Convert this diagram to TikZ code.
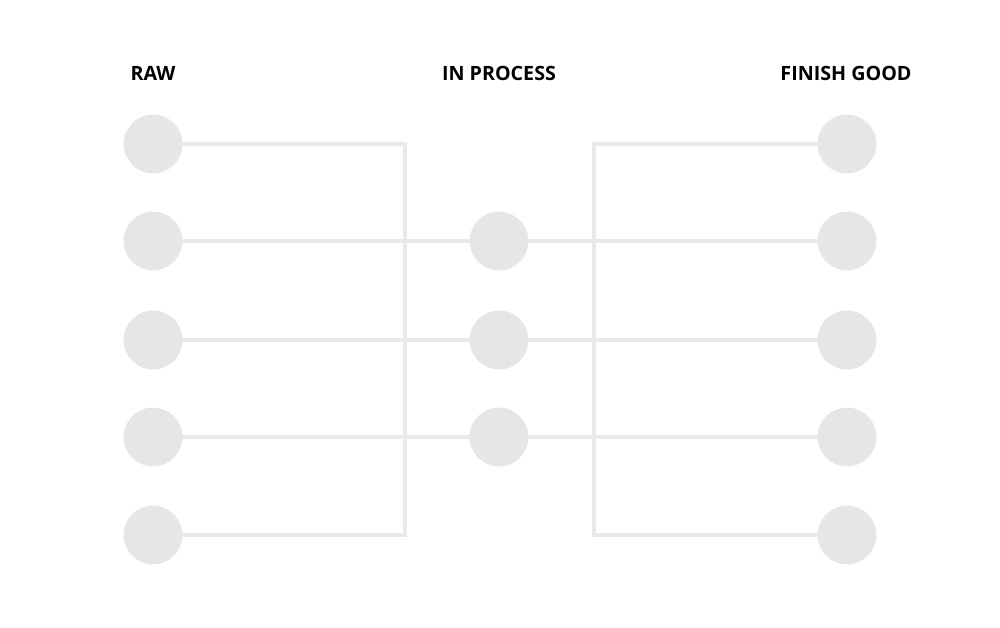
\documentclass[tikz,border=0pt]{standalone}
\usepackage{fontspec}
\setmainfont{Open Sans}
\usetikzlibrary{positioning}
\definecolor{dotgray}{HTML}{E6E6E6}
\definecolor{linegray}{HTML}{E9E9E9}
\begin{document}
\begin{tikzpicture}[x=0.025cm, y=-0.025cm, line width=2.8pt, line join=miter]
	\tikzstyle{stage} = [font=\fontsize{14}{17}\selectfont\bfseries, text=black]
	\tikzstyle{dot} = [circle, fill=dotgray, minimum size=1.47cm, inner sep=0pt, outer sep=0pt]
	\tikzstyle{wire} = [draw=linegray]
	\useasboundingbox (0,0) rectangle (1000,628);
	
	\node[stage] (rawlabel) at (153,73) {RAW};
	\node[stage] (proclabel) at (499,73) {IN PROCESS};
	\node[stage] (finlabel) at (846,73) {FINISH GOOD};
	
	\node[dot] (raw1) at (153,144) {};
	\node[dot] (raw2) at (153,241) {};
	\node[dot] (raw3) at (153,340) {};
	\node[dot] (raw4) at (153,437) {};
	\node[dot] (raw5) at (153,535) {};
	
	\node[dot] (proc1) at (499,241) {};
	\node[dot] (proc2) at (499,340) {};
	\node[dot] (proc3) at (499,437) {};
	
	\node[dot] (fin1) at (847,144) {};
	\node[dot] (fin2) at (847,241) {};
	\node[dot] (fin3) at (847,340) {};
	\node[dot] (fin4) at (847,437) {};
	\node[dot] (fin5) at (847,535) {};
	
	% buses
	\coordinate (leftbustop) at (405,144);
	\coordinate (leftbusbot) at (405,535);
	\coordinate (rightbustop) at (594,144);
	\coordinate (rightbusbot) at (594,535);
	
	\draw[wire] (raw1) -- (leftbustop) -- (leftbusbot) -- (raw5);
	\draw[wire] (fin1) -- (rightbustop) -- (rightbusbot) -- (fin5);
	
	\draw[wire] (raw2) -- (proc1);
	\draw[wire] (raw3) -- (proc2);
	\draw[wire] (raw4) -- (proc3);
	\draw[wire] (proc1) -- (fin2);
	\draw[wire] (proc2) -- (fin3);
	\draw[wire] (proc3) -- (fin4);
\end{tikzpicture}
\end{document}
